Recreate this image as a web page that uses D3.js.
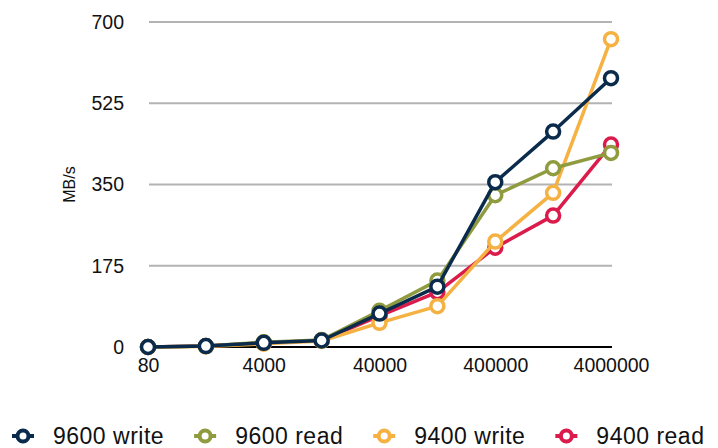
<!DOCTYPE html>
<html>
<head>
<meta charset="utf-8">
<script src="https://cdn.jsdelivr.net/npm/d3@7"></script>
<style>
  body { margin: 0; background: #fff; }
  text { font-family: "Liberation Sans", Arial, Helvetica, sans-serif; fill: #111; }
</style>
</head>
<body>
<div id="chart"></div>
<script>
// categories along the x axis (only every other one is labelled)
const sizes = ["80", "400", "4000", "8000", "40000", "80000", "400000", "800000", "4000000"];
const shownTicks = ["80", "4000", "40000", "400000", "4000000"];
const yTicks = [0, 175, 350, 525, 700];

const seriesNames = ["9600 write", "9600 read", "9400 write", "9400 read"];
const write9600 = [0, 2, 9, 14, 72, 130, 355, 464, 579];
const read9600  = [0, 2, 10, 15, 78, 143, 327, 385, 418];
const write9400 = [0, 1, 7, 13, 52, 88, 227, 332, 663];
const read9400  = [0, 2, 9, 14, 67, 118, 214, 283, 436];
const colors = ["#0b2b4c", "#8f9b3e", "#f5b243", "#da1b4b"];

const width = 718, height = 448;
const margin = { top: 22, right: 106, bottom: 101, left: 149 };

const svg = d3.select("#chart").append("svg")
  .attr("width", width).attr("height", height);

const x = d3.scalePoint()
  .domain(sizes)
  .range([margin.left - 1, width - margin.right - 1]);

const y = d3.scaleLinear()
  .domain([0, 700])
  .range([height - margin.bottom, margin.top]);

// grid lines
svg.append("g")
  .selectAll("line")
  .data(yTicks.filter(d => d > 0))
  .join("line")
    .attr("x1", margin.left)
    .attr("x2", width - margin.right)
    .attr("y1", d => y(d))
    .attr("y2", d => y(d))
    .attr("stroke", "#b3b3b3")
    .attr("stroke-width", 2);

// baseline
svg.append("line")
  .attr("x1", margin.left).attr("x2", width - margin.right)
  .attr("y1", y(0)).attr("y2", y(0))
  .attr("stroke", "#000").attr("stroke-width", 2);

// y axis labels
const yAxis = svg.append("g")
  .attr("transform", `translate(${margin.left - 25},0)`)
  .call(d3.axisLeft(y).tickValues(yTicks).tickSize(0).tickPadding(0));
yAxis.select(".domain").remove();
yAxis.selectAll("text").style("font-size", "19.5px").attr("fill", "#111");

// x axis labels
const xAxis = svg.append("g")
  .attr("transform", `translate(0,${y(0) + 8})`)
  .call(d3.axisBottom(x).tickValues(shownTicks).tickSize(0).tickPadding(3));
xAxis.select(".domain").remove();
xAxis.selectAll("text").style("font-size", "19.5px").attr("fill", "#111");

svg.append("text")
  .attr("transform", `translate(75,${y(350)}) rotate(-90)`)
  .attr("text-anchor", "middle")
  .style("font-size", "16px")
  .text("MB/s");

const dataReady = [write9600, read9600, write9400, read9400].map((vals, i) => ({
  name: seriesNames[i],
  color: colors[i],
  values: vals.map((v, j) => ({ size: sizes[j], value: v }))
}));

const line = d3.line()
  .x(d => x(d.size))
  .y(d => y(d.value));

// draw from last to first so 9600 write is on top
const groups = svg.append("g")
  .selectAll("g")
  .data(dataReady.slice().reverse())
  .join("g");

groups.append("path")
  .attr("d", d => line(d.values))
  .attr("fill", "none")
  .attr("stroke", d => d.color)
  .attr("stroke-width", 3.5)
  .attr("stroke-linejoin", "round");

groups.selectAll("circle")
  .data(d => d.values.map(v => ({ ...v, color: d.color })))
  .join("circle")
    .attr("cx", d => x(d.size))
    .attr("cy", d => y(d.value))
    .attr("r", 6.5)
    .attr("fill", "#fff")
    .attr("stroke", d => d.color)
    .attr("stroke-width", 3.5);

// legend
const legend = svg.append("g").attr("transform", "translate(0,436)");
let lx = 23;
dataReady.forEach(d => {
  const g = legend.append("g").attr("transform", `translate(${lx},0)`);
  g.append("line")
    .attr("x1", -11).attr("x2", 11)
    .attr("stroke", d.color).attr("stroke-width", 4);
  g.append("circle")
    .attr("r", 5.5)
    .attr("fill", "#fff")
    .attr("stroke", d.color)
    .attr("stroke-width", 4);
  const t = g.append("text")
    .attr("x", 30)
    .attr("dy", "0.35em")
    .style("font-size", "23px")
    .style("letter-spacing", "0.5px")
    .text(d.name);
  lx += 30 + t.node().getComputedTextLength() + 41;
});
</script>
</body>
</html>
